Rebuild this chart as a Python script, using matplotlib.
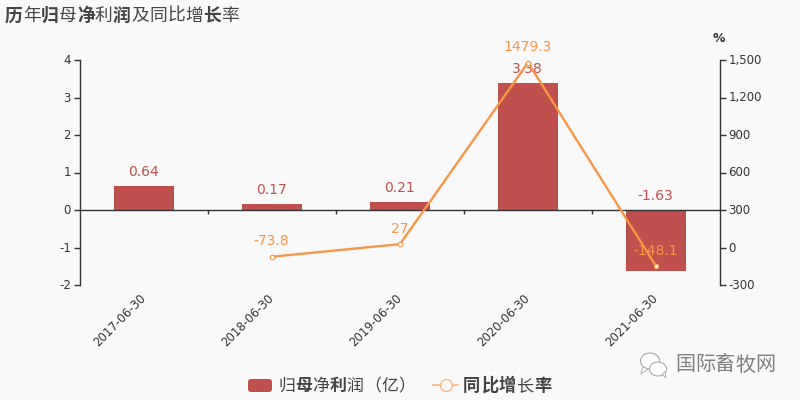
import numpy as np
import matplotlib
matplotlib.use("Agg")
import matplotlib.pyplot as plt
from matplotlib.patches import FancyBboxPatch, Ellipse, Polygon
from matplotlib.lines import Line2D
from matplotlib.transforms import ScaledTranslation

plt.rcParams['axes.unicode_minus'] = False
cjk = ['Noto Sans CJK SC', 'DejaVu Sans']

dates = ['2017-06-30', '2018-06-30', '2019-06-30', '2020-06-30', '2021-06-30']
profit = [0.64, 0.17, 0.21, 3.38, -1.63]
growth = [np.nan, -73.8, 27, 1479.3, -148.1]
growth_labels = [None, '-73.8', '27', '1479.3', '-148.1']
left_ticks = [-2, -1, 0, 1, 2, 3, 4]
right_ticks = [-300, 0, 300, 600, 900, 1200, 1500]

title_chars = '历年归母净利润及同比增长率'
title_bold = [1, 0, 1, 0, 1, 0, 1, 0, 0, 0, 0, 1, 0]
legend1_chars = '归母净利润（亿）'
legend1_bold = [0, 1, 0, 1, 0, 0, 0, 0]
legend2_chars = '同比增长率'
legend2_bold = [1, 1, 1, 0, 1]

bar_color = '#c0504d'
line_color = '#f79646'
text_color = '#333333'

fig = plt.figure(figsize=(8, 4), dpi=100, facecolor='#f9f9f9')
ax = fig.add_axes([80 / 800, 1 - 285 / 400, 640 / 800, 225 / 400])
ax.set_facecolor('none')
x = np.arange(len(dates))

ax.bar(x, profit, width=60 / 128, color=bar_color, zorder=2)
ax.set_xlim(-0.5, 4.5)
ax.set_ylim(-2, 4)
ax.set_yticks(left_ticks)
ax.tick_params(axis='y', length=4, width=1, color=text_color, labelcolor=text_color, labelsize=8.5, pad=2.5)
ax.set_xticks([0.5, 1.5, 2.5, 3.5])
ax.set_xticklabels([])
ax.tick_params(axis='x', length=3, width=1, color=text_color)
ax.spines['top'].set_visible(False)
ax.spines['right'].set_visible(False)
ax.spines['bottom'].set_position(('data', 0))
for s in ['left', 'bottom']:
    ax.spines[s].set_color(text_color)
    ax.spines[s].set_linewidth(1)

ax2 = ax.twinx()
ax2.set_facecolor('none')
ax2.set_ylim(-300, 1500)
ax2.set_yticks(right_ticks)
ax2.set_yticklabels([f'{v:,}' for v in right_ticks])
ax2.tick_params(axis='y', length=4, width=1, color=text_color, labelcolor=text_color, labelsize=8.5, pad=2)
for s in ['top', 'left', 'bottom']:
    ax2.spines[s].set_visible(False)
ax2.spines['right'].set_color(text_color)
ax2.spines['right'].set_linewidth(1)
ax2.plot(x, growth, color=line_color, lw=1.7, marker='o', ms=3.2,
         mfc='white', mec=line_color, mew=0.8, zorder=5, clip_on=False)

# tick labels sit about a pixel above the tick in the reference
up = ScaledTranslation(0, 1 / 100, fig.dpi_scale_trans)
for lab in ax.get_yticklabels() + ax2.get_yticklabels():
    lab.set_transform(lab.get_transform() + up)

# labels
for i, v in enumerate(profit):
    ax.annotate(f'{v}', (x[i], max(v, 0)), xytext=(-0.5, 10), textcoords='offset points',
                ha='center', va='center', fontsize=10, color=bar_color, zorder=6)
for i, v in enumerate(growth_labels):
    if v is None:
        continue
    ax2.annotate(v, (x[i], growth[i]), xytext=(-0.5, 11), textcoords='offset points',
                 ha='center', va='center', fontsize=10, color='#f9954a', zorder=7)

for i, d in enumerate(dates):
    ax.annotate(d, (x[i], -2), xytext=(-3.5, -5), textcoords='offset points', rotation=45,
                rotation_mode='anchor', ha='right', va='top', fontsize=8.5, color=text_color)

fig.text(719 / 800, 1 - 39 / 400, '%', fontsize=9, fontweight='bold', color=text_color, ha='center', va='center')


def char_row(chars, bold, x0, y, step, size, color):
    for i, c in enumerate(chars):
        fig.text((x0 + i * step) / 800, 1 - y / 400, c, family=cjk, fontsize=size, color=color,
                 fontweight='bold' if bold[i] else 'normal', ha='left', va='center')


char_row(title_chars, title_bold, 5, 15.5, 18, 12.8, '#444444')
char_row(legend1_chars, legend1_bold, 278, 386, 17.2, 12.2, '#444444')
char_row(legend2_chars, legend2_bold, 463, 386, 17.8, 12.4, '#444444')

# legend symbols
fig.add_artist(FancyBboxPatch((248 / 800, 1 - 392 / 400), 24 / 800, 13 / 400,
                              boxstyle='round,pad=0,rounding_size=0.004', transform=fig.transFigure,
                              fc=bar_color, ec='none', mutation_aspect=2))
fig.add_artist(Line2D([433 / 800, 458 / 800], [1 - 385 / 400] * 2, transform=fig.transFigure,
                      color='#fbb681', lw=1.2))
fig.add_artist(Line2D([445.5 / 800], [1 - 385 / 400], transform=fig.transFigure, marker='o', ms=8.5,
                      mfc='#f9f9f9', mec='#fbb681', mew=1))

# watermark
char_row('国际畜牧网', [0] * 5, 675, 365, 20, 14.5, '#808080')
for cx, cy, w, h in [(650, 361, 19, 16), (658, 369, 17, 14)]:
    fig.add_artist(Ellipse((cx / 800, 1 - cy / 400), w / 800, h / 400, transform=fig.transFigure,
                           fc='white', ec='#aaaaaa', lw=0.8))
for tail in [[(643, 367), (641, 374), (648, 369)], [(662, 374), (666, 378), (665, 372)]]:
    fig.add_artist(Polygon([(a / 800, 1 - b / 400) for a, b in tail], transform=fig.transFigure,
                           fc='white', ec='#aaaaaa', lw=0.6))

fig.savefig('out.png', dpi=100, facecolor=fig.get_facecolor())
